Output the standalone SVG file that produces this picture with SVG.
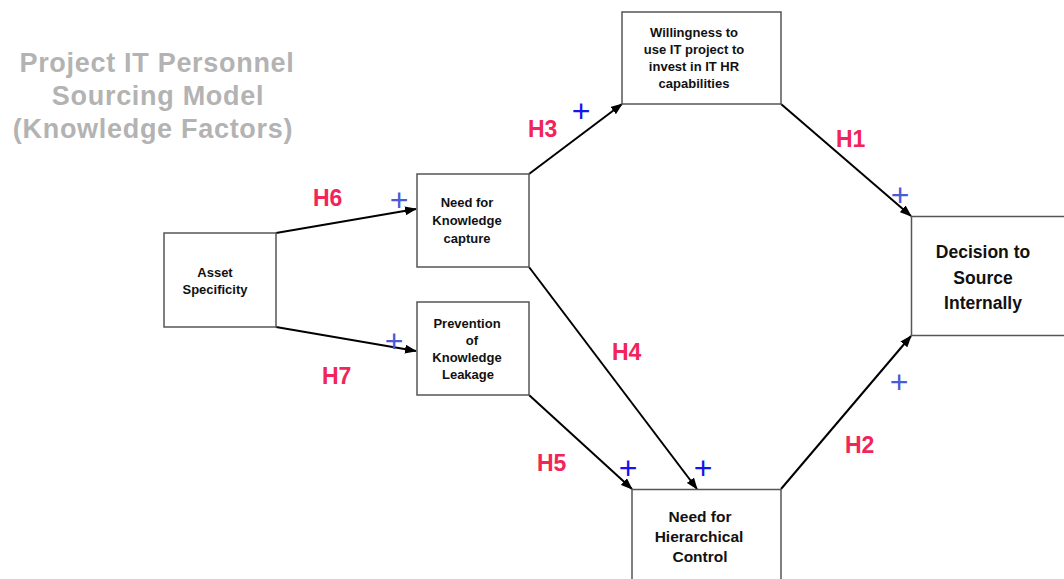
<svg xmlns="http://www.w3.org/2000/svg" width="1064" height="579" viewBox="0 0 1064 579">
  <defs>
    <marker id="arrow" viewBox="0 0 12 9" markerWidth="12" markerHeight="9" refX="11" refY="4.5" orient="auto" markerUnits="userSpaceOnUse">
      <path d="M0,0 L12,4.5 L0,9 z" fill="#000"/>
    </marker>
    <style>
      .box { fill: #fff; stroke: #555; stroke-width: 1.5; }
      .node text { font-family: "Liberation Sans", Arial, sans-serif; font-weight: bold; fill: #111; text-anchor: middle; }
      .small { font-size: 13px; }
      .edge { stroke: #000; stroke-width: 2; fill: none; marker-end: url(#arrow); }
      .hyp { font-family: "Liberation Sans", Arial, sans-serif; font-weight: bold; font-size: 23px; fill: #f2245a; }
      .plus { font-family: "Liberation Sans", Arial, sans-serif; font-size: 32px; text-anchor: middle; }
      .p1 { fill: #4a5ad8; }
      .p2 { fill: #1414ee; }
      .title { font-family: "Liberation Sans", Arial, sans-serif; font-weight: bold; font-size: 27px; letter-spacing: 0.7px; fill: #b3b3b3; text-anchor: middle; }
    </style>
  </defs>

  <rect width="1064" height="579" fill="#fff"/>

  <!-- heading -->
  <g id="title">
    <text class="title" x="157" y="72">Project IT Personnel</text>
    <text class="title" x="158" y="105">Sourcing Model</text>
    <text class="title" x="153" y="138">(Knowledge Factors)</text>
  </g>

  <!-- connectors -->
  <g id="connectors">
    <line class="edge" x1="276" y1="233" x2="416" y2="209"/>
    <line class="edge" x1="276" y1="327" x2="416" y2="351"/>
    <line class="edge" x1="529" y1="174" x2="622" y2="104"/>
    <line class="edge" x1="781" y1="104" x2="911" y2="216"/>
    <line class="edge" x1="529" y1="267" x2="697" y2="489"/>
    <line class="edge" x1="529" y1="395" x2="632" y2="489"/>
    <line class="edge" x1="781" y1="489" x2="911" y2="336"/>
  </g>

  <!-- nodes -->
  <g id="asset" class="node">
    <rect class="box" x="164" y="233" width="112" height="94"/>
    <text class="small" x="215" y="277">Asset</text>
    <text class="small" x="215" y="294">Specificity</text>
  </g>

  <g id="capture" class="node">
    <rect class="box" x="417" y="174" width="112" height="93"/>
    <text class="small" x="467" y="207">Need for</text>
    <text class="small" x="467" y="225">Knowledge</text>
    <text class="small" x="467" y="243">capture</text>
  </g>

  <g id="leakage" class="node">
    <rect class="box" x="417" y="302" width="112" height="93"/>
    <text class="small" x="467" y="328">Prevention</text>
    <text class="small" x="472" y="345">of</text>
    <text class="small" x="467" y="362">Knowledge</text>
    <text class="small" x="468" y="379">Leakage</text>
  </g>

  <g id="willingness" class="node">
    <rect class="box" x="622" y="12" width="159" height="92"/>
    <text class="small" x="694" y="37">Willingness to</text>
    <text class="small" x="694" y="54">use IT project to</text>
    <text class="small" x="694" y="71">invest in IT HR</text>
    <text class="small" x="694" y="88">capabilities</text>
  </g>

  <g id="decision" class="node">
    <rect class="box" x="911.5" y="216.5" width="200" height="119"/>
    <text x="983" y="258" font-size="17.5">Decision to</text>
    <text x="983" y="283.5" font-size="17.5">Source</text>
    <text x="983" y="309" font-size="17.5">Internally</text>
  </g>

  <g id="hierarchical" class="node">
    <rect class="box" x="632" y="489.5" width="149" height="120"/>
    <text x="700" y="522" font-size="15.5">Need for</text>
    <text x="699" y="542" font-size="15.5">Hierarchical</text>
    <text x="700" y="562" font-size="15.5">Control</text>
  </g>

  <!-- hypothesis labels -->
  <g id="labels">
    <text class="hyp" x="313" y="206">H6</text>
    <text class="hyp" x="322" y="384">H7</text>
    <text class="hyp" x="528" y="137">H3</text>
    <text class="hyp" x="836" y="147">H1</text>
    <text class="hyp" x="612" y="360">H4</text>
    <text class="hyp" x="537" y="471">H5</text>
    <text class="hyp" x="845" y="453">H2</text>
  </g>

  <!-- signs of effect -->
  <g id="signs">
    <text class="plus p1" x="399" y="211">+</text>
    <text class="plus p1" x="394" y="352">+</text>
    <text class="plus p2" x="581" y="122">+</text>
    <text class="plus p1" x="900" y="206">+</text>
    <text class="plus p1" x="899" y="393">+</text>
    <text class="plus p2" x="628" y="479">+</text>
    <text class="plus p2" x="703" y="479">+</text>
  </g>
</svg>
